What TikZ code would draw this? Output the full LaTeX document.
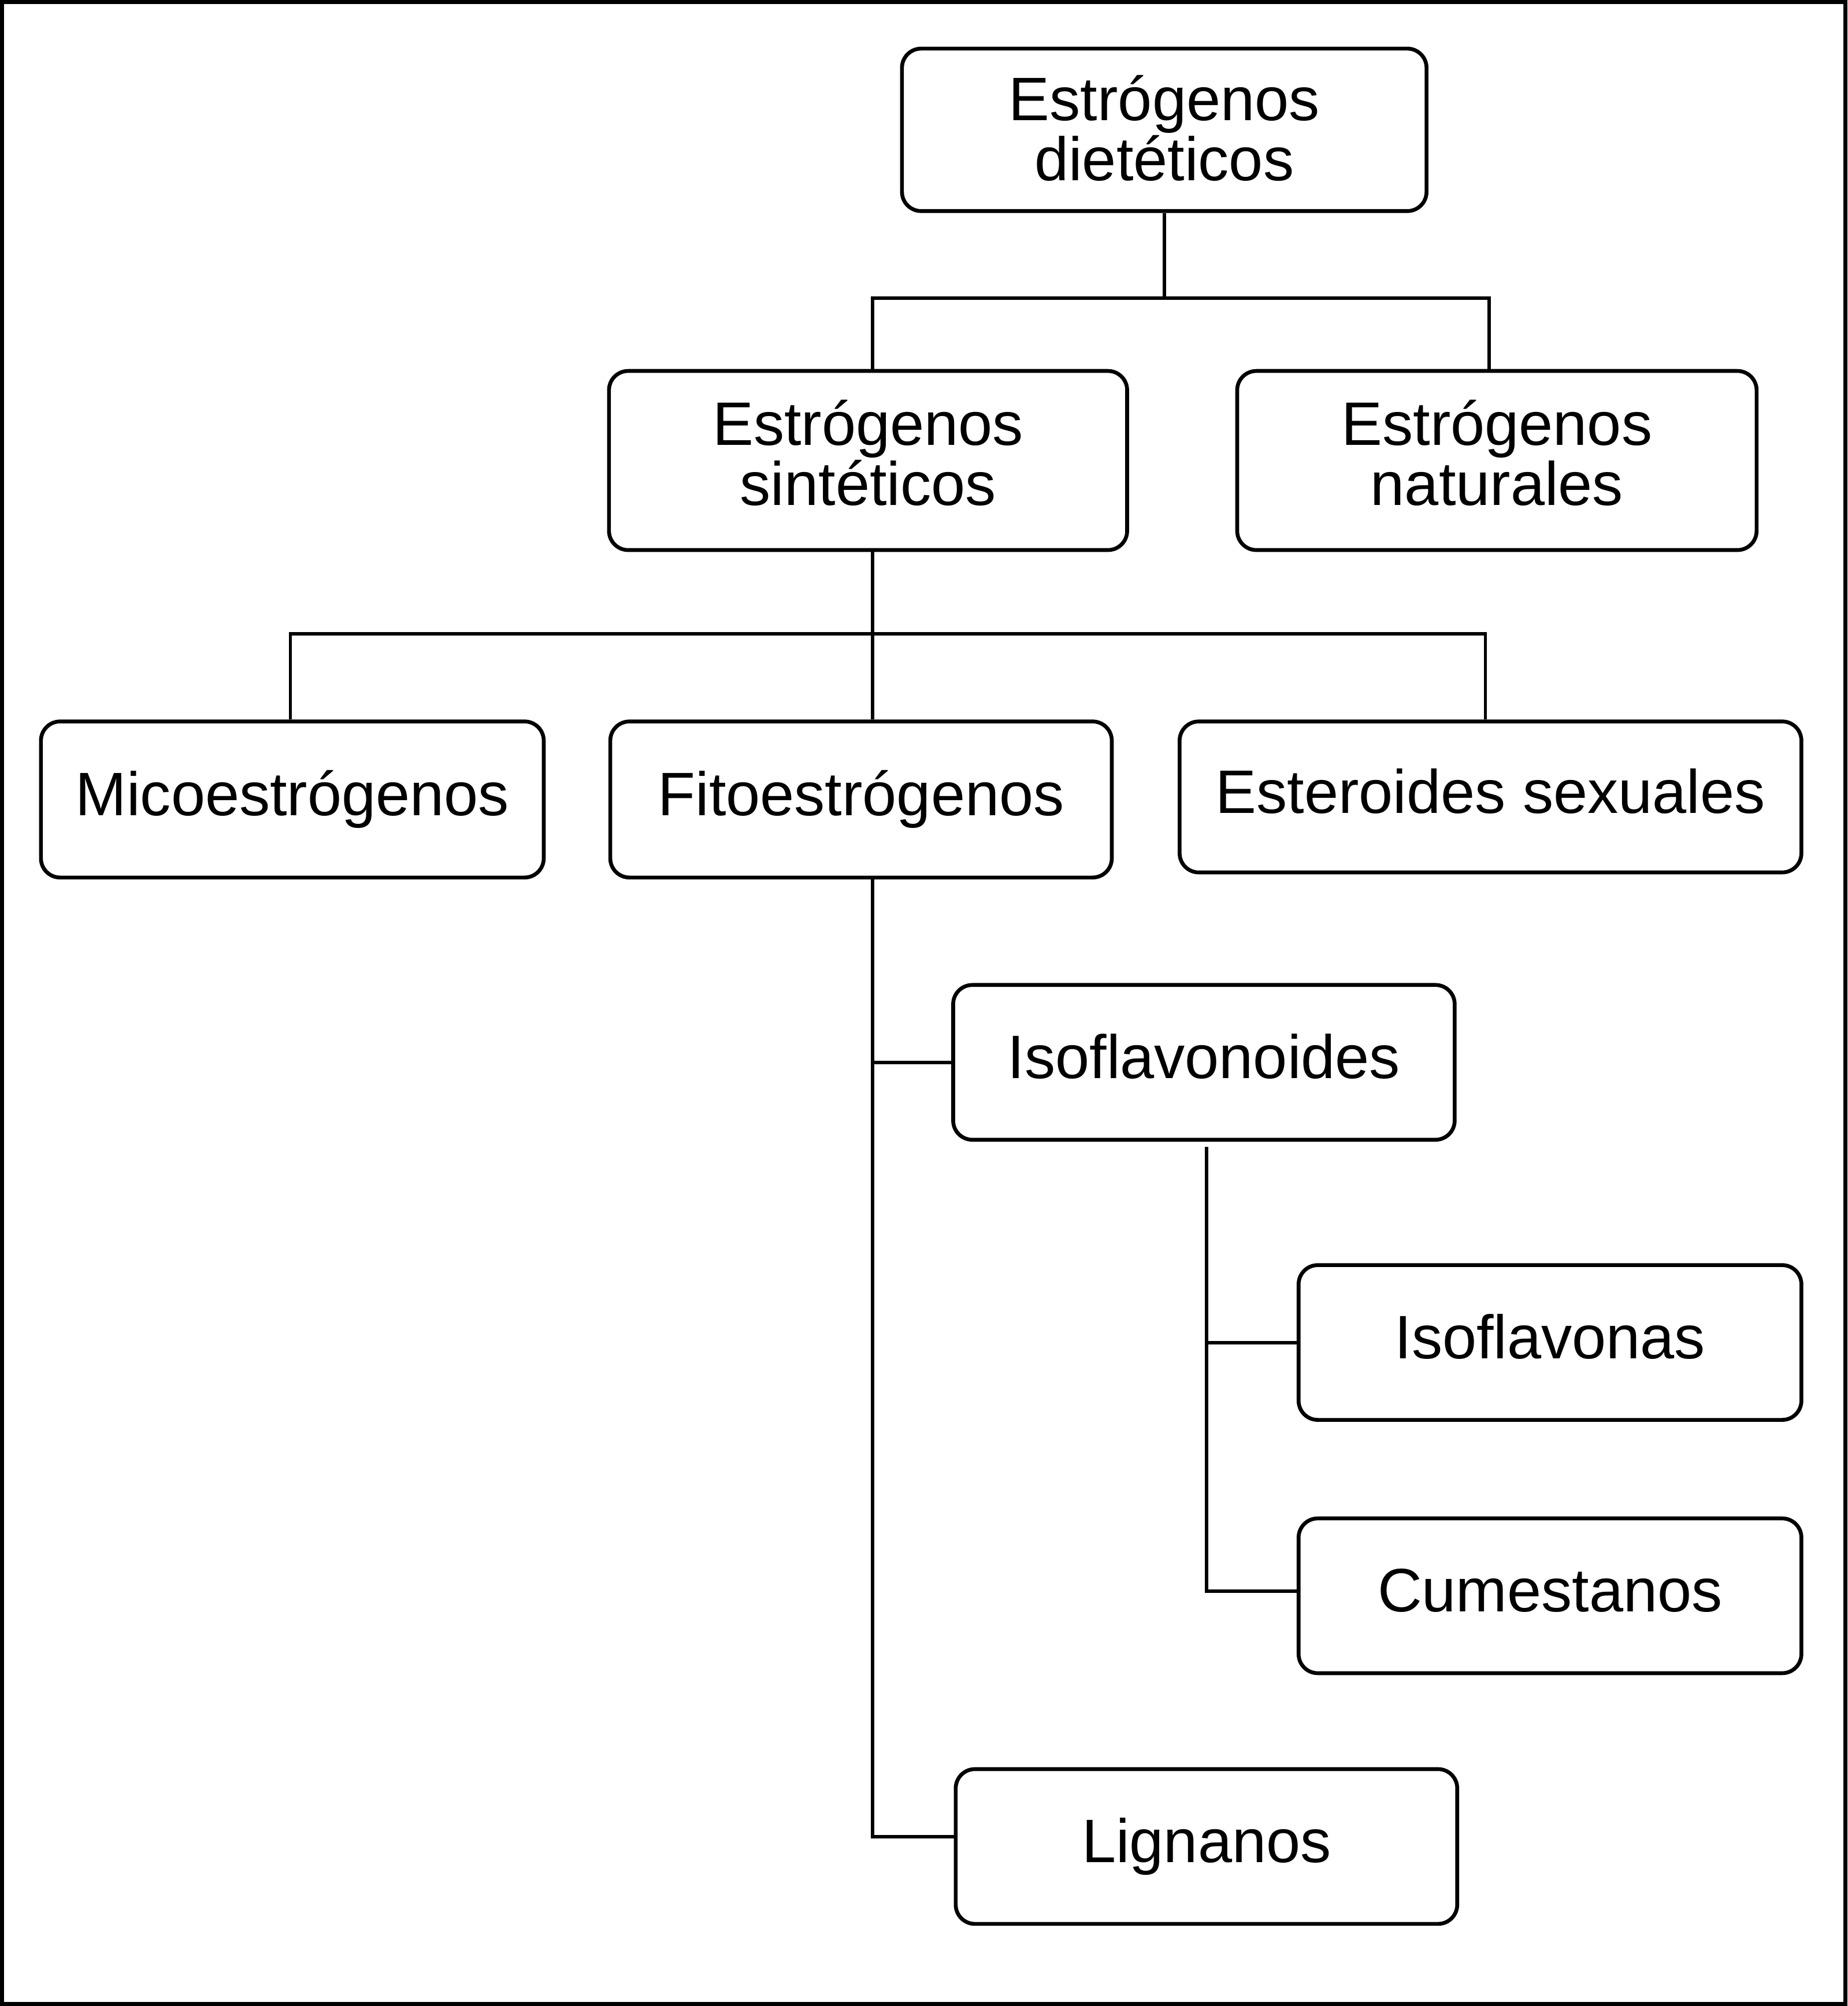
\documentclass[tikz,border=0pt]{standalone}
\usepackage{fontspec}
\setmainfont{Liberation Sans}
\begin{document}
\begin{tikzpicture}[x=1pt,y=-1pt,
  box/.style={draw, line width=3pt, rounded corners=15pt, inner sep=0pt,
    align=center, font=\fontsize{48}{47}\selectfont, text height=35pt, text depth=10pt},
  twoline/.style={text height=#1, text depth=0pt},
  conn/.style={line width=2.6pt}]
\useasboundingbox (0,0) rectangle (1444,1568.2);
\draw[line width=3pt] (1.5,1.5) rectangle (1442.5,1566.7);
% boxes
\node[box, twoline=79pt, minimum width=410pt, minimum height=127pt] (top) at (910,101.5) {Estrógenos\\dietéticos};
\node[box, twoline=70pt, minimum width=405pt, minimum height=140pt] (synth) at (678.5,360) {Estrógenos\\sintéticos};
\node[box, twoline=70pt, minimum width=406pt, minimum height=140pt] (nat) at (1170,360) {Estrógenos\\naturales};
\node[box, minimum width=393pt, minimum height=122pt] (mico) at (228.5,625) {Micoestrógenos};
\node[box, minimum width=392pt, minimum height=122pt] (fito) at (673,625) {Fitoestrógenos};
\node[box, minimum width=486pt, minimum height=118pt] (ester) at (1165,623) {Esteroides sexuales};
\node[box, minimum width=392pt, minimum height=121pt] (isofd) at (941,830.5) {Isoflavonoides};
\node[box, minimum width=393pt, minimum height=121pt] (isofv) at (1211.5,1049.5) {Isoflavonas};
\node[box, minimum width=393pt, minimum height=121pt] (cume) at (1211.5,1247.5) {Cumestanos};
\node[box, minimum width=392pt, minimum height=121pt] (lign) at (943,1443.5) {Lignanos};
% connectors
\draw[conn] (top.south) -- ++(0,66.5) coordinate (j1);
\draw[conn] (j1) -| ([xshift=3.5pt]synth.north);
\draw[conn] (j1) -| ([xshift=-6pt]nat.north);
\draw[conn] ([xshift=3.5pt]synth.south) -- ++(0,64) coordinate (j2);
\draw[conn] (j2) -- ([xshift=9pt]fito.north);
\draw[conn] (j2) -| ([xshift=-1.5pt]mico.north);
\draw[conn] (j2) -| ([xshift=-4pt]ester.north);
\draw[conn] ([xshift=9pt]fito.south) |- ([yshift=7.5pt]lign.west);
\draw[conn] ([xshift=9pt]fito.south |- isofd.west) -- (isofd.west);
\draw[conn] ([xshift=2pt,yshift=-4pt]isofd.south) |- ([yshift=3.5pt]cume.west);
\draw[conn] ([xshift=2pt]isofd.south |- isofv.west) -- (isofv.west);
\end{tikzpicture}
\end{document}
